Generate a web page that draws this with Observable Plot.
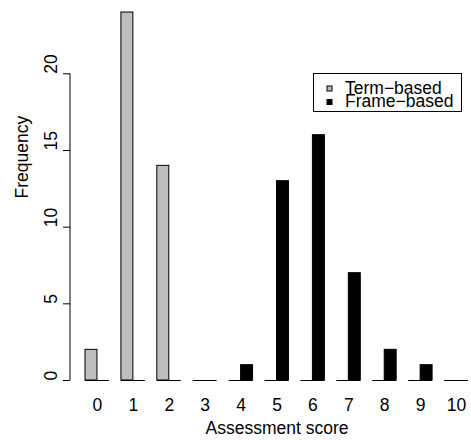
<!DOCTYPE html>
<html>
<head>
<meta charset="utf-8">
<script src="https://cdn.jsdelivr.net/npm/d3@7"></script>
<script src="https://cdn.jsdelivr.net/npm/@observablehq/plot@0.6"></script>
<style>
  html, body { margin: 0; padding: 0; background: #fff; }
  #chart { width: 471px; height: 440px; }
</style>
</head>
<body>
<div id="chart"></div>
<script>
// ---- data ----
const scores = [0, 1, 2, 3, 4, 5, 6, 7, 8, 9, 10];
const termBased = [2, 24, 14, 0, 0, 0, 0, 0, 0, 0, 0];
const frameBased = [0, 0, 0, 0, 1, 13, 16, 7, 2, 1, 0];
const seriesNames = ["Term\u2212based", "Frame\u2212based"];
const seriesFills = ["#bebebe", "#000000"];
const yTicks = [0, 5, 10, 15, 20];
const xLabel = "Assessment score";
const yLabel = "Frequency";

// ---- layout ----
const W = 471, H = 440;
const mL = 70, mR = 3, mT = 12, mB = 60, xInset = 15;
const padInner = 1 / 3;
const step = (W - mL - mR - xInset) / (scores.length - padInner);
const half = step * (1 - padInner) / 2;
const FONT = "'Liberation Sans', Arial, Helvetica, sans-serif";
const FS = 17.5;

const term = scores.map((s, i) => ({score: s, value: termBased[i]}));
const frame = scores.map((s, i) => ({score: s, value: frameBased[i]}));

const plot = Plot.plot({
  width: W,
  height: H,
  marginLeft: mL,
  marginRight: mR,
  marginTop: mT,
  marginBottom: mB,
  style: {fontFamily: FONT, fontSize: FS + "px", background: "#fff", color: "#000"},
  x: {type: "band", domain: scores, paddingInner: padInner, paddingOuter: 0, round: false, insetLeft: xInset, label: null},
  y: {domain: [0, 24], label: null},
  marks: [
    Plot.tickY(scores, {x: d => d, y: () => 0, stroke: "#000", strokeWidth: 1}),
    Plot.barY(term, {x: "score", y: "value", fill: seriesFills[0], stroke: "#000", strokeWidth: 1, insetLeft: 0, insetRight: half}),
    Plot.barY(frame, {x: "score", y: "value", fill: seriesFills[1], stroke: "#000", strokeWidth: 1, insetLeft: half, insetRight: 0}),
    Plot.axisX({tickSize: 0, tickPadding: 18, label: null}),
    Plot.axisY({ticks: yTicks, tickSize: 7, text: null, label: null}),
    Plot.text(yTicks, {y: d => d, text: d => String(d), frameAnchor: "left", rotate: -90, dx: -19, fill: "#000"}),
    Plot.text([yLabel], {frameAnchor: "left", rotate: -90, dx: -48, dy: 2, fill: "#000"}),
    Plot.text([xLabel], {frameAnchor: "bottom", dx: xInset / 2, dy: 53.5, fill: "#000"})
  ]
});

document.getElementById("chart").appendChild(plot);

// y axis line from first to last tick, through Plot's y scale
const ys = plot.scale("y");
const svg = d3.select(plot);
svg.append("line")
  .attr("x1", mL).attr("x2", mL)
  .attr("y1", ys.apply(yTicks[0])).attr("y2", ys.apply(yTicks[yTicks.length - 1]))
  .attr("stroke", "#000").attr("stroke-width", 1);

// legend (top right, inside plot area)
const lg = svg.append("g").attr("font-family", FONT).attr("font-size", FS).attr("text-anchor", "start");
lg.append("rect").attr("x", 313.5).attr("y", 73.5).attr("width", 148).attr("height", 38)
  .attr("fill", "#fff").attr("stroke", "#000").attr("stroke-width", 1);
seriesNames.forEach((name, i) => {
  const cy = 88.5 + i * 13.5;
  lg.append("rect").attr("x", 327).attr("y", cy - 2.5).attr("width", 5).attr("height", 5)
    .attr("fill", seriesFills[i]).attr("stroke", "#000").attr("stroke-width", 1);
  lg.append("text").attr("x", 345).attr("y", 94 + i * 13.3).attr("fill", "#000")
    .attr("text-anchor", "start").text(name);
});
</script>
</body>
</html>
